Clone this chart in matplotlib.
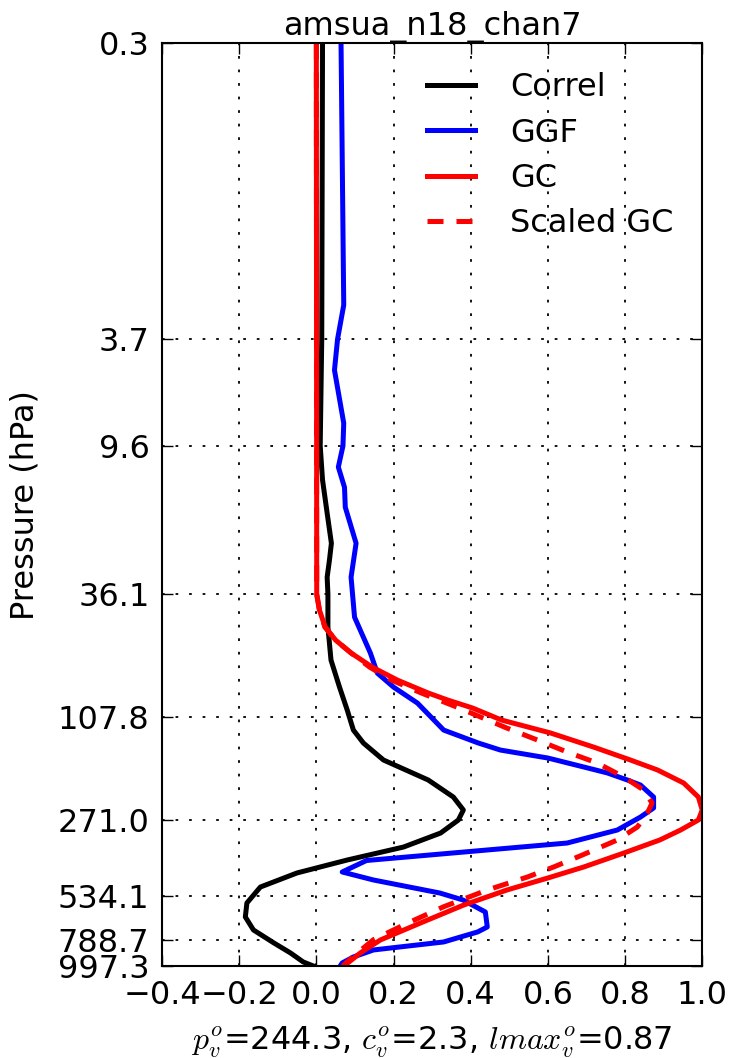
import matplotlib
matplotlib.use("Agg")
import matplotlib.pyplot as plt
from matplotlib.ticker import FixedLocator, NullLocator

# pressure (hPa) / value pairs
correl_p = [0.264, 3.7, 9.6, 13.0, 17.5, 22.9, 26.6, 31.0, 36.1, 48.4, 65.0, 82.7,
            101.5, 121.4, 136.3, 158.6, 189.6, 220.7, 247.8, 271.0, 304.4, 344.9,
            387.3, 434.7, 492.9, 568.5, 644.0, 723.2, 812.3, 888.1, 962.3, 997.3]
correl_x = [0.016, 0.014, 0.010, 0.016, 0.028, 0.039, 0.034, 0.028, 0.030, 0.030, 0.038, 0.060,
            0.080, 0.096, 0.122, 0.174, 0.290, 0.355, 0.381, 0.368, 0.322, 0.226,
            0.080, -0.050, -0.145, -0.180, -0.184, -0.163, -0.110, -0.067, -0.034, -0.008]

ggf_p = [0.264, 2.73, 3.7, 4.88, 7.84, 9.6, 11.6, 13.9, 16.6, 22.9, 31.0, 44.3,
         61.0, 73.0, 82.7, 95.4, 121.4, 136.3, 145.1, 155.8, 168.8, 178.0, 189.6,
         198.3, 220.7, 243.4, 263.9, 296.3, 332.8, 389.0, 431.0, 462.9, 520.0,
         553.4, 616.0, 704.1, 736.2, 805.0, 864.6, 920.4, 971.0, 997.3]
ggf_x = [0.064, 0.071, 0.055, 0.047, 0.071, 0.069, 0.057, 0.073, 0.075, 0.103, 0.090, 0.099,
         0.140, 0.158, 0.200, 0.262, 0.330, 0.420, 0.477, 0.600, 0.693, 0.754, 0.806,
         0.840, 0.874, 0.874, 0.840, 0.780, 0.650, 0.130, 0.067, 0.148, 0.320,
         0.380, 0.438, 0.443, 0.418, 0.330, 0.148, 0.096, 0.067, 0.062]

gc_p = [0.264, 36.1, 41.6, 48.4, 54.4, 61.0, 69.2, 77.7, 87.2, 92.8, 99.7, 111.0,
        124.6, 141.2, 158.6, 173.3, 194.8, 220.7, 247.8, 271.0, 296.3, 323.9,
        363.8, 412.2, 454.7, 506.2, 578.8, 679.5, 790.8, 888.1, 988.4, 997.3]
gc_x = [0.0, 0.001, 0.008, 0.023, 0.050, 0.090, 0.145, 0.210, 0.290, 0.340, 0.405, 0.480,
        0.607, 0.718, 0.814, 0.884, 0.952, 0.990, 1.000, 0.990, 0.944, 0.890,
        0.797, 0.693, 0.600, 0.494, 0.382, 0.270, 0.166, 0.114, 0.075, 0.072]

sgc_p = [0.264, 36.1, 41.6, 48.4, 54.4, 61.0, 69.2, 77.7, 87.2, 99.7, 119.3, 132.7,
         147.7, 162.9, 184.6, 207.3, 232.9, 254.6, 288.4, 323.9, 370.0, 412.2,
         450.7, 506.2, 587.7, 681.0, 788.7, 889.0, 997.3]
sgc_x = [0.0, 0.001, 0.008, 0.022, 0.050, 0.090, 0.138, 0.195, 0.272, 0.370, 0.494, 0.573,
         0.650, 0.728, 0.797, 0.848, 0.870, 0.858, 0.832, 0.780, 0.690, 0.615,
         0.547, 0.443, 0.330, 0.236, 0.148, 0.106, 0.068]

ytick_p = [0.264, 3.7, 9.6, 36.1, 107.8, 271.0, 534.1, 788.7, 997.3]
xticks = [-0.4, -0.2, 0.0, 0.2, 0.4, 0.6, 0.8, 1.0]

plt.rcParams['mathtext.fontset'] = 'cm'
plt.rcParams['font.size'] = 23

fig = plt.figure(figsize=(7.33, 10.58), dpi=100)
ax = fig.add_axes([0.221, 0.087, 0.737, 0.872])

lw = 3.6
ax.plot(correl_x, correl_p, color='black', lw=lw, label='Correl')
ax.plot(ggf_x, ggf_p, color='blue', lw=lw, label='GGF')
ax.plot(gc_x, gc_p, color='red', lw=lw, label='GC')
ax.plot(sgc_x, sgc_p, color='red', lw=lw, ls='--', dashes=(3.2, 2.6), label='Scaled GC')

ax.set_yscale('log')
ax.set_ylim(997.3, 0.264)
ax.set_xlim(-0.4, 1.0)
ax.yaxis.set_major_locator(FixedLocator(ytick_p))
ax.yaxis.set_minor_locator(NullLocator())
ax.set_yticklabels(['%.1f' % p for p in ytick_p])
ax.set_xticks(xticks)
ax.set_xticklabels([('%.1f' % x).replace('-', '\u2212') for x in xticks])

ax.tick_params(direction='in', which='both', top=True, right=True,
               length=8, width=1, labelsize=23)
ax.tick_params(axis='y', pad=9)
ax.tick_params(axis='x', pad=10)
for sp in ax.spines.values():
    sp.set_linewidth(1.5)
ax.grid(True, color='black', ls=(0, (1.5, 6)), lw=1.3)

ax.set_title('amsua_n18_chan7', fontsize=23, pad=6)
ax.set_ylabel('Pressure (hPa)', fontsize=23, labelpad=12)
ax.set_xlabel(r'$p_v^o$=244.3, $c_v^o$=2.3, $lmax_v^o$=0.87', fontsize=23, labelpad=10)

ax.legend(loc='upper right', frameon=False, fontsize=23, handlelength=1.5,
          handletextpad=1.1, labelspacing=0.45)

fig.savefig('out.png', dpi=100)
